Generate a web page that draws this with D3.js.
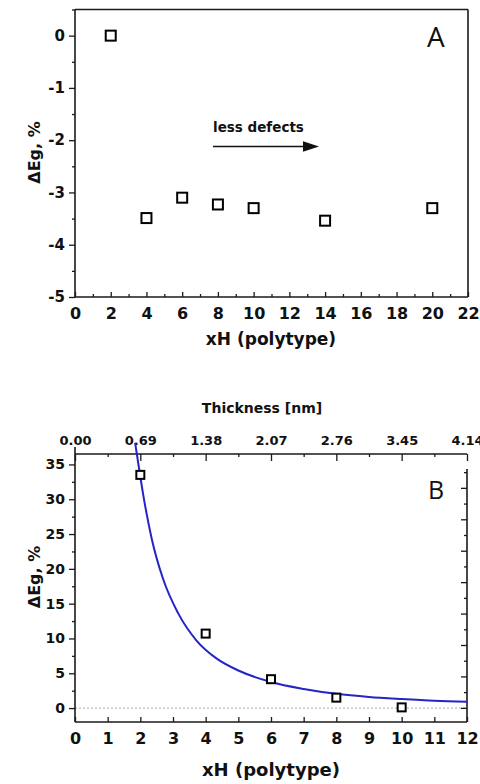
<!DOCTYPE html>
<html><head><meta charset="utf-8">
<script src="https://cdn.jsdelivr.net/npm/d3@7"></script>
<style>body{margin:0;background:#fff}svg{display:block}</style>
</head><body>
<script>
// Panel A data
const polytypeA = [2, 4, 6, 8, 10, 14, 20];
const deltaEgA = [0, -3.49, -3.10, -3.23, -3.30, -3.54, -3.30];
const xTicksA = [0, 2, 4, 6, 8, 10, 12, 14, 16, 18, 20, 22];
const yTicksA = [0, -1, -2, -3, -4, -5];
// Panel B data
const polytypeB = [2, 4, 6, 8, 10];
const deltaEgB = [33.5, 10.7, 4.15, 1.5, 0.1];
const fitX = [1.84, 1.89, 2.09, 2.35, 2.70, 3.16, 3.72, 4.34, 5, 6, 7, 8, 9, 10, 11, 12];
const fitY = [38.1, 36.6, 30.6, 24.3, 18.5, 13.6, 9.7, 7.1, 5.4, 3.75, 2.75, 2.05, 1.6, 1.3, 1.05, 0.9];
const xTicksB = [0, 1, 2, 3, 4, 5, 6, 7, 8, 9, 10, 11, 12];
const yTicksB = [0, 5, 10, 15, 20, 25, 30, 35];
const thicknessTicks = ["0.00", "0.69", "1.38", "2.07", "2.76", "3.45", "4.14"];

const W = 480, H = 784;
const svg = d3.select("body").append("svg").attr("width", W).attr("height", H);
const FONT = "'DejaVu Sans', sans-serif";
const AX = "#1a1a1a";
const plain = d => String(d);

function styleAxis(g) {
  g.select(".domain").remove();
  g.selectAll("line").attr("stroke", AX).attr("stroke-width", 1.3);
  g.selectAll("text").attr("font-family", FONT).attr("font-weight", "bold").attr("fill", "#111");
}
function line(x1, y1, x2, y2) {
  svg.append("line").attr("x1", x1).attr("y1", y1).attr("x2", x2).attr("y2", y2)
    .attr("stroke", AX).attr("stroke-width", 1.6);
}

// ===== Panel A =====
const xA = d3.scaleLinear().domain([0, 22]).range([75, 468]);
const yA = d3.scaleLinear().domain([-5, 0.5]).range([297, 9.5]);

svg.append("g").attr("transform", "translate(0,297)")
  .call(d3.axisBottom(xA).tickValues(d3.range(1, 22, 2)).tickSize(-3).tickFormat(""))
  .call(styleAxis);
svg.append("g").attr("transform", "translate(0,297)")
  .call(d3.axisBottom(xA).tickValues(xTicksA).tickSize(-5).tickFormat(plain))
  .call(styleAxis)
  .call(g => g.selectAll("text").attr("font-size", 16).attr("dy", "0.71em").attr("y", 11));
svg.append("g").attr("transform", "translate(75,0)")
  .call(d3.axisLeft(yA).tickValues(d3.range(-4.5, 0.6, 1)).tickSize(3).tickFormat(""))
  .call(styleAxis);
svg.append("g").attr("transform", "translate(75,0)")
  .call(d3.axisLeft(yA).tickValues(yTicksA).tickSize(6).tickFormat(plain))
  .call(styleAxis)
  .call(g => g.selectAll("text").attr("font-size", 15).attr("x", -10));

line(75, 9.5, 75, 297); line(75, 297, 468, 297); line(75, 9.5, 468, 9.5); line(468, 9.5, 468, 297);

svg.append("g").selectAll("rect").data(polytypeA.map((x, i) => [x, deltaEgA[i]])).join("rect")
  .attr("x", d => xA(d[0]) - 5).attr("y", d => yA(d[1]) - 5).attr("width", 10).attr("height", 10)
  .attr("fill", "#fff").attr("stroke", "#000").attr("stroke-width", 2);

// arrow annotation
svg.append("text").attr("x", 213).attr("y", 132).attr("font-family", FONT).attr("font-weight", "bold")
  .attr("font-size", 13.5).attr("fill", "#111").text("less defects");
svg.append("line").attr("x1", 213).attr("y1", 146.5).attr("x2", 305).attr("y2", 146.5)
  .attr("stroke", "#111").attr("stroke-width", 1.3);
svg.append("path").attr("d", "M303,141.3 L319,146.5 L303,151.7 Z").attr("fill", "#111");

svg.append("text").attr("x", 427).attr("y", 47).attr("font-family", "'Open Sans', sans-serif")
  .attr("font-size", 28).attr("fill", "#111").text("A");

svg.append("text").attr("x", 271).attr("y", 345).attr("text-anchor", "middle")
  .attr("font-family", FONT).attr("font-weight", "bold").attr("font-size", 17).attr("fill", "#111")
  .text("xH (polytype)");
svg.append("text").attr("transform", "translate(40,152.5) rotate(-90)").attr("text-anchor", "middle")
  .attr("font-family", FONT).attr("font-weight", "bold").attr("font-size", 16).attr("fill", "#111")
  .text("ΔEg, %");

// ===== Panel B =====
const xB = d3.scaleLinear().domain([0, 12]).range([75, 467]);
const yB = d3.scaleLinear().domain([-2, 36.5]).range([722, 454]);
const tB = d3.scaleLinear().domain([0, 4.14]).range([75, 467]);
const rB = d3.scaleLinear().domain([-0.9, 15.2]).range([722, 469]);

svg.append("line").attr("x1", 75).attr("x2", 467).attr("y1", yB(0)).attr("y2", yB(0))
  .attr("stroke", "#aaa").attr("stroke-width", 1).attr("stroke-dasharray", "2,2");

svg.append("g").attr("transform", "translate(0,722)")
  .call(d3.axisBottom(xB).tickValues(xTicksB).tickSize(-5).tickFormat(plain))
  .call(styleAxis)
  .call(g => g.selectAll("text").attr("font-size", 16).attr("dy", "0.71em").attr("y", 11));
svg.append("g").attr("transform", "translate(75,0)")
  .call(d3.axisLeft(yB).tickValues(d3.range(-2.5, 36, 5).filter(v => v > -2)).tickSize(3).tickFormat(""))
  .call(styleAxis);
svg.append("g").attr("transform", "translate(75,0)")
  .call(d3.axisLeft(yB).tickValues(yTicksB).tickSize(6).tickFormat(plain))
  .call(styleAxis)
  .call(g => g.selectAll("text").attr("font-size", 14).attr("x", -10));
// top thickness axis
svg.append("g").attr("transform", "translate(0,454)")
  .call(d3.axisTop(tB).tickValues(d3.range(0.345, 4.14, 0.69)).tickSize(-3).tickFormat(""))
  .call(styleAxis);
svg.append("g").attr("transform", "translate(0,454)")
  .call(d3.axisTop(tB).tickValues(thicknessTicks.map(Number)).tickSize(-7).tickFormat(d3.format(".2f")))
  .call(styleAxis)
  .call(g => g.selectAll("text").attr("font-size", 13).attr("y", -9).attr("dy", 0));
// right axis (unlabelled)
svg.append("g").attr("transform", "translate(467,0)")
  .call(d3.axisRight(rB).tickValues(d3.range(1, 16, 2)).tickSize(-3).tickFormat(""))
  .call(styleAxis);
svg.append("g").attr("transform", "translate(467,0)")
  .call(d3.axisRight(rB).tickValues(d3.range(0, 15, 2)).tickSize(-6).tickFormat(""))
  .call(styleAxis);

line(75, 447, 75, 722); line(75, 722, 467, 722); line(75, 454, 467, 454); line(467, 469, 467, 722);

// fit curve
svg.append("path").datum(fitX.map((x, i) => [x, fitY[i]]))
  .attr("d", d3.line().x(d => xB(d[0])).y(d => yB(d[1])).curve(d3.curveMonotoneX))
  .attr("fill", "none").attr("stroke", "#2424c8").attr("stroke-width", 2);

svg.append("g").selectAll("rect").data(polytypeB.map((x, i) => [x, deltaEgB[i]])).join("rect")
  .attr("x", d => xB(d[0]) - 4).attr("y", d => yB(d[1]) - 4).attr("width", 8).attr("height", 8)
  .attr("fill", "#fff").attr("stroke", "#000").attr("stroke-width", 2);

svg.append("text").attr("x", 428).attr("y", 499).attr("font-family", "'Open Sans', sans-serif")
  .attr("font-size", 25).attr("fill", "#111").text("B");
svg.append("text").attr("x", 262).attr("y", 413).attr("text-anchor", "middle")
  .attr("font-family", FONT).attr("font-weight", "bold").attr("font-size", 14).attr("fill", "#111")
  .text("Thickness [nm]");
svg.append("text").attr("x", 271).attr("y", 776).attr("text-anchor", "middle")
  .attr("font-family", FONT).attr("font-weight", "bold").attr("font-size", 18).attr("fill", "#111")
  .text("xH (polytype)");
svg.append("text").attr("transform", "translate(40,577) rotate(-90)").attr("text-anchor", "middle")
  .attr("font-family", FONT).attr("font-weight", "bold").attr("font-size", 16).attr("fill", "#111")
  .text("ΔEg, %");
</script>
</body></html>
